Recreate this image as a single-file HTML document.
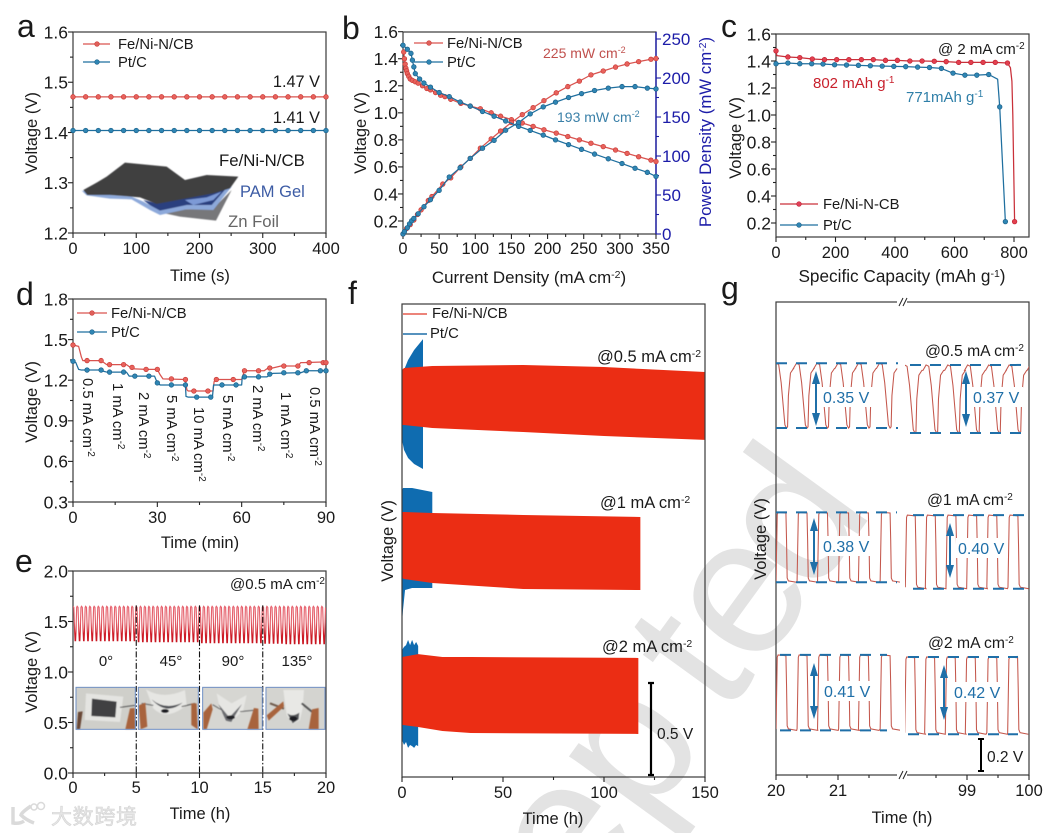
<!DOCTYPE html>
<html lang="en">
<head>
<meta charset="utf-8">
<title>Battery performance figure</title>
<style>
html,body{margin:0;padding:0;background:#fff;width:1053px;height:833px;overflow:hidden;}
#stage{width:1053px;height:833px;overflow:hidden;position:relative;}
svg{display:block;overflow:hidden;font-family:"Liberation Sans","Noto Sans CJK SC",sans-serif;}
text{fill:#1a1a1a;}
</style>
</head>
<body>
<div id="stage">
<svg id="fig" xmlns="http://www.w3.org/2000/svg" width="1053" height="833" viewBox="0 0 1053 833">
  <defs>
    <clipPath id="clip-page"><rect x="0" y="0" width="1053" height="833"/></clipPath>
    <clipPath id="clip-e"><rect x="73" y="571" width="253" height="202"/></clipPath>
    <clipPath id="clip-g-left"><rect x="776" y="303" width="124" height="472"/></clipPath>
    <clipPath id="clip-g-right"><rect x="905" y="303" width="124" height="472"/></clipPath>
    <linearGradient id="e-wave-gradient" gradientUnits="userSpaceOnUse" x1="0" y1="605" x2="0" y2="643">
      <stop offset="0" stop-color="#e6626e"/>
      <stop offset="0.45" stop-color="#e4606a"/>
      <stop offset="0.75" stop-color="#cf1f2a"/>
      <stop offset="1" stop-color="#c8141f"/>
    </linearGradient>
    <filter id="soft" x="-5%" y="-5%" width="110%" height="110%"><feGaussianBlur stdDeviation="1.6"/></filter>
  </defs>
  <rect width="1053" height="833" style="fill:#fff"/>
  <g clip-path="url(#clip-page)">
    <text transform="translate(390,1178) rotate(-54)" dx="0 0 0 0 0 27 0 -15" font-size="195" style="fill:#e3e3e3">Accepted</text>
  </g>

  <g opacity="0.9">
    <path d="M13 807 L13 823 Q20 824 24 821 M31 806 Q22 812 21 815 Q26 820 34 823" fill="none" stroke="#d6d6d6" stroke-width="3.5"/>
    <circle cx="34" cy="807" r="3" fill="none" stroke="#d6d6d6" stroke-width="1.5"/>
    <circle cx="41" cy="806" r="3.5" fill="none" stroke="#d6d6d6" stroke-width="1.5"/>
    <text x="51" y="824" font-size="21" textLength="86" style="fill:#e4e4e4;stroke:#d0d0d0;stroke-width:0.6">大数跨境</text>
  </g>

  <g id="panel-a"></g>
  <g id="panel-b"></g>
  <g id="panel-c"></g>
  <g id="panel-d"></g>
  <g id="panel-e"></g>
  <g id="panel-f"></g>
  <g id="panel-g"></g>

  <!-- panel letters -->
  <text x="17" y="37" font-size="32">a</text>
  <text x="342" y="39" font-size="32">b</text>
  <text x="721" y="37" font-size="32">c</text>
  <text x="16" y="305" font-size="32">d</text>
  <text x="15" y="572" font-size="32">e</text>
  <text x="348" y="304" font-size="32">f</text>
  <text x="721" y="299" font-size="32">g</text>

  <!-- axis titles -->
  <text transform="translate(37,133) rotate(-90)" text-anchor="middle" font-size="16.5">Voltage (V)</text>
  <text x="200" y="281" text-anchor="middle" font-size="16.5">Time (s)</text>
  <text transform="translate(366,133) rotate(-90)" text-anchor="middle" font-size="16.5">Voltage (V)</text>
  <text transform="translate(711,132) rotate(-90)" text-anchor="middle" font-size="16.8" style="fill:#1c1ca8">Power Density (mW cm<tspan dy="-5" font-size="10.5" style="fill:#1c1ca8">-2</tspan><tspan dy="5" style="fill:#1c1ca8">)</tspan></text>
  <text x="529" y="283" text-anchor="middle" font-size="16.9">Current Density (mA cm<tspan dy="-5" font-size="10.5">-2</tspan><tspan dy="5">)</tspan></text>
  <text transform="translate(741,138) rotate(-90)" text-anchor="middle" font-size="16.5">Voltage (V)</text>
  <text x="902" y="282" text-anchor="middle" font-size="17.2">Specific Capacity (mAh g<tspan dy="-5" font-size="10.5">-1</tspan><tspan dy="5">)</tspan></text>
  <text transform="translate(37,402) rotate(-90)" text-anchor="middle" font-size="16.5">Voltage (V)</text>
  <text x="200" y="548" text-anchor="middle" font-size="16.5">Time (min)</text>
  <text transform="translate(37,672) rotate(-90)" text-anchor="middle" font-size="16.5">Voltage (V)</text>
  <text x="200" y="819" text-anchor="middle" font-size="16.5">Time (h)</text>
  <text transform="translate(393,541) rotate(-90)" text-anchor="middle" font-size="16.5">Voltage (V)</text>
  <text x="553" y="824" text-anchor="middle" font-size="16.5">Time (h)</text>
  <text transform="translate(766,539) rotate(-90)" text-anchor="middle" font-size="16.5">Voltage (V)</text>
  <text x="902" y="823" text-anchor="middle" font-size="16.5">Time (h)</text>

  <!-- panel a annotations -->
  <g>
    <line x1="83" x2="110" y1="44" y2="44" stroke="#d9534f" stroke-width="1.3"/>
    <circle cx="97" cy="44" r="2.3" fill="#e0605a" stroke="#c93a36" stroke-width="0.6"/>
    <text x="118" y="49" font-size="14.8">Fe/Ni-N/CB</text>
    <line x1="83" x2="110" y1="62" y2="62" stroke="#1f6f9f" stroke-width="1.3"/>
    <circle cx="97" cy="62" r="2.3" fill="#2f86b4" stroke="#1b5f88" stroke-width="0.6"/>
    <text x="118" y="67" font-size="14.8">Pt/C</text>
  </g>
  <text x="320" y="87" text-anchor="end" font-size="16.3">1.47 V</text>
  <text x="320" y="123" text-anchor="end" font-size="16.3">1.41 V</text>
  <g transform="scale(0.3333)">
    <g filter="url(#soft)">
      <polygon points="470,635 540,650 648,662 695,570 640,625 560,628" fill="#77777a"/>
      <polygon points="430,600 480,640 560,622 640,625 695,555 640,570 560,585 470,610" fill="#29407f"/>
      <polygon points="245,572 260,586 330,596 395,598 450,630 480,645 560,628 640,630 695,560 690,552 635,615 560,615 480,632 430,605 395,590 330,585 262,575" fill="#8da9da"/>
      <polygon points="555,600 620,592 665,575 640,600 580,615" fill="#7d9ad6"/>
      <polygon points="250,570 290,548 320,530 375,488 500,500 555,540 620,525 715,530 690,565 640,580 560,595 470,612 420,592 330,585 262,585" fill="#3f3f41"/>
    </g>
  </g>
  <text x="219" y="166" font-size="16.8">Fe/Ni-N/CB</text>
  <text x="240" y="197" font-size="16.5" style="fill:#3d5ca5">PAM Gel</text>
  <text x="228" y="227" font-size="16.7" style="fill:#666">Zn Foil</text>

  <!-- panel b annotations -->
  <g>
    <line x1="414" x2="443" y1="43" y2="43" stroke="#d9534f" stroke-width="1.3"/>
    <circle cx="429" cy="43" r="2.3" fill="#e0605a" stroke="#c93a36" stroke-width="0.6"/>
    <text x="447" y="48" font-size="14.8">Fe/Ni-N/CB</text>
    <line x1="414" x2="443" y1="62" y2="62" stroke="#1f6f9f" stroke-width="1.3"/>
    <circle cx="429" cy="62" r="2.3" fill="#2f86b4" stroke="#1b5f88" stroke-width="0.6"/>
    <text x="447" y="67" font-size="14.8">Pt/C</text>
  </g>
  <text x="543" y="58" font-size="14" style="fill:#c0504d">225 mW cm<tspan dy="-5" font-size="9" style="fill:#c0504d">-2</tspan></text>
  <text x="557" y="122" font-size="14" style="fill:#3a80a8">193 mW cm<tspan dy="-5" font-size="9" style="fill:#3a80a8">-2</tspan></text>

  <!-- panel c annotations -->
  <g>
    <line x1="780" x2="818" y1="204" y2="204" stroke="#c9303a" stroke-width="1.3"/>
    <circle cx="799" cy="204" r="2.3" fill="#e0405a" stroke="#c01f30" stroke-width="0.6"/>
    <text x="823" y="209" font-size="14.8">Fe/Ni-N-CB</text>
    <line x1="780" x2="818" y1="225" y2="225" stroke="#1f6f9f" stroke-width="1.3"/>
    <circle cx="799" cy="225" r="2.3" fill="#2f86b4" stroke="#1b5f88" stroke-width="0.6"/>
    <text x="823" y="230" font-size="14.8">Pt/C</text>
  </g>
  <text x="938" y="54" font-size="15">@ 2 mA cm<tspan dy="-5" font-size="10">-2</tspan></text>
  <text x="813" y="88" font-size="15" style="fill:#c8202c">802 mAh g<tspan dy="-5" font-size="10" style="fill:#c8202c">-1</tspan></text>
  <text x="906" y="102" font-size="15" style="fill:#2f7fa8">771mAh g<tspan dy="-5" font-size="10" style="fill:#2f7fa8">-1</tspan></text>

  <!-- panel d annotations -->
  <g>
    <line x1="77" x2="107" y1="313" y2="313" stroke="#d9534f" stroke-width="1.3"/>
    <circle cx="92" cy="313" r="2.3" fill="#e0605a" stroke="#c93a36" stroke-width="0.6"/>
    <text x="111" y="318" font-size="14.8">Fe/Ni-N/CB</text>
    <line x1="77" x2="107" y1="332" y2="332" stroke="#1f6f9f" stroke-width="1.3"/>
    <circle cx="92" cy="332" r="2.3" fill="#2f86b4" stroke="#1b5f88" stroke-width="0.6"/>
    <text x="111" y="337" font-size="14.8">Pt/C</text>
  </g>
  <g font-size="14.8">
    <text transform="translate(83,378) rotate(90)">0.5 mA cm<tspan dy="-5" font-size="10">-2</tspan></text>
    <text transform="translate(113,383) rotate(90)">1 mA cm<tspan dy="-5" font-size="10">-2</tspan></text>
    <text transform="translate(139,392) rotate(90)">2 mA cm<tspan dy="-5" font-size="10">-2</tspan></text>
    <text transform="translate(167,395) rotate(90)">5 mA cm<tspan dy="-5" font-size="10">-2</tspan></text>
    <text transform="translate(194,407) rotate(90)">10 mA cm<tspan dy="-5" font-size="10">-2</tspan></text>
    <text transform="translate(223,395) rotate(90)">5 mA cm<tspan dy="-5" font-size="10">-2</tspan></text>
    <text transform="translate(253,385) rotate(90)">2 mA cm<tspan dy="-5" font-size="10">-2</tspan></text>
    <text transform="translate(281,392) rotate(90)">1 mA cm<tspan dy="-5" font-size="10">-2</tspan></text>
    <text transform="translate(310,387) rotate(90)">0.5 mA cm<tspan dy="-5" font-size="10">-2</tspan></text>
  </g>

  <!-- panel e annotations -->
  <text x="230" y="589" font-size="15">@0.5 mA cm<tspan dy="-5" font-size="10">-2</tspan></text>
  <text x="106" y="666" text-anchor="middle" font-size="15">0°</text>
  <text x="171" y="666" text-anchor="middle" font-size="15">45°</text>
  <text x="233" y="666" text-anchor="middle" font-size="15">90°</text>
  <text x="297" y="666" text-anchor="middle" font-size="15">135°</text>
  <g transform="translate(70,680) scale(0.3333)">
    <g>
      <rect x="18" y="22" width="178" height="126" fill="#cfcfca"/>
      <g filter="url(#soft)">
        <polygon points="48,40 160,50 150,126 44,120" fill="#e4e4e1"/>
        <polygon points="66,56 140,65 136,112 64,108" fill="#3f3f42"/>
        <line x1="150" y1="82" x2="195" y2="76" stroke="#555" stroke-width="3"/>
        <polygon points="180,85 194,84 196,148 166,148" fill="#a8633c"/>
        <polygon points="24,96 38,94 30,148 20,148" fill="#6b4a38"/>
      </g>
      <rect x="18" y="22" width="178" height="126" fill="none" stroke="#6f8fc4" stroke-width="3"/>
    </g>
    <g>
      <rect x="205" y="22" width="180" height="126" fill="#d2d2ce"/>
      <g filter="url(#soft)">
        <path d="M228 28 Q280 60 345 30 L350 75 Q290 125 250 85 Z" fill="#e6e6e3"/>
        <path d="M245 58 Q285 92 338 68 Q290 108 245 58 Z" fill="#4e4f54"/>
        <ellipse cx="285" cy="93" rx="12" ry="6" fill="#1d1d20"/>
        <line x1="215" y1="70" x2="250" y2="76" stroke="#666" stroke-width="3"/>
        <line x1="335" y1="80" x2="375" y2="70" stroke="#555" stroke-width="3"/>
        <polygon points="206,76 226,68 232,140 212,148" fill="#a8633c"/>
        <polygon points="364,70 380,70 383,148 364,135" fill="#a8633c"/>
      </g>
      <rect x="205" y="22" width="180" height="126" fill="none" stroke="#6f8fc4" stroke-width="3"/>
    </g>
    <g>
      <rect x="398" y="22" width="179" height="126" fill="#d6d6d2"/>
      <g filter="url(#soft)">
        <path d="M440 40 L485 70 L530 45 L520 90 L482 128 L450 90 Z" fill="#e6e6e3"/>
        <path d="M445 72 L478 112 L516 72 L484 126 L468 122 Z" fill="#6b6c70"/>
        <ellipse cx="482" cy="112" rx="13" ry="6" fill="#222326"/>
        <line x1="428" y1="74" x2="455" y2="90" stroke="#666" stroke-width="3"/>
        <line x1="510" y1="95" x2="560" y2="90" stroke="#666" stroke-width="3"/>
        <polygon points="400,98 424,70 428,88 410,148 400,148" fill="#a8633c"/>
        <polygon points="552,84 565,86 566,148 532,148" fill="#a8633c"/>
      </g>
      <rect x="398" y="22" width="179" height="126" fill="none" stroke="#6f8fc4" stroke-width="3"/>
    </g>
    <g>
      <rect x="588" y="22" width="177" height="126" fill="#d4d4d0"/>
      <g filter="url(#soft)">
        <path d="M640 30 L702 30 L698 85 L690 120 L668 132 L650 105 Z" fill="#e8e8e5"/>
        <path d="M652 100 Q668 112 688 98 L686 118 L668 130 Z" fill="#55565a"/>
        <ellipse cx="670" cy="116" rx="12" ry="7" fill="#1d1d20"/>
        <line x1="600" y1="70" x2="642" y2="86" stroke="#6e5a4c" stroke-width="6"/>
        <line x1="695" y1="70" x2="727" y2="96" stroke="#555" stroke-width="6"/>
        <polygon points="590,106 640,64 642,80 596,122" fill="#a8633c"/>
        <polygon points="726,88 746,84 746,148 716,148" fill="#a8633c"/>
      </g>
      <rect x="588" y="22" width="177" height="126" fill="none" stroke="#6f8fc4" stroke-width="3"/>
    </g>
  </g>

  <!-- panel f annotations -->
  <g>
    <line x1="403" x2="427" y1="314" y2="314" stroke="#e03a2a" stroke-width="1.2"/>
    <text x="432" y="318" font-size="14.8">Fe/Ni-N/CB</text>
    <line x1="403" x2="427" y1="334" y2="334" stroke="#1f6fa8" stroke-width="1.5"/>
    <text x="430" y="338" font-size="14.8">Pt/C</text>
  </g>
  <text x="597" y="362" font-size="16.5">@0.5 mA cm<tspan dy="-5" font-size="10.5">-2</tspan></text>
  <text x="600" y="508" font-size="16.5">@1 mA cm<tspan dy="-5" font-size="10.5">-2</tspan></text>
  <text x="602" y="652" font-size="16.5">@2 mA cm<tspan dy="-5" font-size="10.5">-2</tspan></text>

  <!-- panel g annotations -->
  <text x="925" y="356" font-size="15.7">@0.5 mA cm<tspan dy="-5" font-size="10">-2</tspan></text>
  <text x="927" y="505" font-size="15.7">@1 mA cm<tspan dy="-5" font-size="10">-2</tspan></text>
  <text x="928" y="648" font-size="15.7">@2 mA cm<tspan dy="-5" font-size="10">-2</tspan></text>
  <g id="g-overlay"></g>
</svg>
</div>

<script>
// ---------- Panel a data ----------
const aXTicks = ['0','100','200','300','400'];
const aYTicks = ['1.2','1.3','1.4','1.5','1.6'];
const aTime = [0,20,40,60,80,100,120,140,160,180,200,220,240,260,280,300,320,340,360,380,400];
const aFe = [1.471,1.471,1.471,1.471,1.471,1.471,1.471,1.471,1.471,1.471,1.471,1.471,1.471,1.471,1.471,1.471,1.471,1.471,1.471,1.471,1.471];
const aPt = [1.404,1.404,1.404,1.404,1.404,1.404,1.404,1.404,1.404,1.404,1.404,1.404,1.404,1.404,1.404,1.404,1.404,1.404,1.404,1.404,1.404];

// ---------- Panel b data ----------
const bXTicks = ['0','50','100','150','200','250','300','350'];
const bYTicks = ['0.2','0.4','0.6','0.8','1.0','1.2','1.4','1.6'];
const bRightTicks = ['0','50','100','150','200','250'];
const bFeJ = [1,2,3,4,5,6,8,10,13,17,21,27,33,38,45,52,58,66,80,93,107,122,135,150,165,180,195,212,228,244,260,277,294,310,326,343,350];
const bFeV = [1.45,1.40,1.36,1.33,1.31,1.29,1.27,1.25,1.24,1.23,1.22,1.2,1.18,1.17,1.15,1.13,1.12,1.10,1.07,1.05,1.03,1.0,0.975,0.95,0.925,0.90,0.875,0.85,0.825,0.80,0.775,0.75,0.725,0.70,0.675,0.65,0.64];
const bPtJ = [0,6,11,13,15,17,23,29,38,50,64,79,93,110,126,142,160,176,194,211,229,247,265,284,303,321,338,350];
const bPtV = [1.5,1.47,1.44,1.39,1.34,1.29,1.25,1.22,1.19,1.15,1.12,1.08,1.05,1.01,0.975,0.94,0.9,0.87,0.835,0.80,0.765,0.73,0.695,0.66,0.625,0.59,0.56,0.53];
const bFePowerJ = [0,5,10,15,20,25,35,40,55,66,80,93,107,122,135,150,165,180,195,212,228,244,260,277,294,310,326,343,350];
const bFePower = [0,7,12,18,25,31,43,48,64,72,86,97,110,122,132,143,153,162,171,181,189,196,204,209,214,218,221,224,225];
const bPtPowerJ = [0,2,6,9,12,15,21,29,38,50,64,79,93,110,126,142,160,176,194,211,229,247,265,284,303,321,338,350];
const bPtPower = [0,3,8,13,17,20,26,35,44,56,73,85,97,110,120,133,143,154,163,169,175,180,184,187,189,189,187,186];

// ---------- Panel c data ----------
const cXTicks = ['0','200','400','600','800'];
const cYTicks = ['0.2','0.4','0.6','0.8','1.0','1.2','1.4','1.6'];
const cFeCap = [0,40,80,122,163,204,245,287,327,368,408,450,491,532,572,614,655,696,737,778,802];
const cFeV = [1.475,1.43,1.425,1.415,1.41,1.41,1.41,1.41,1.41,1.405,1.405,1.4,1.4,1.398,1.395,1.39,1.39,1.39,1.39,1.385,0.21];
const cFeLineCap = [0,3,40,80,122,163,204,245,287,327,368,408,450,491,532,572,614,655,696,737,778,788,793,796,799,802];
const cFeLineV = [1.475,1.44,1.43,1.425,1.415,1.41,1.41,1.41,1.41,1.41,1.405,1.405,1.4,1.4,1.398,1.395,1.39,1.39,1.39,1.39,1.385,1.35,1.25,1.0,0.6,0.21];
const cPtCap = [0,40,80,120,158,197,237,277,317,357,396,436,476,516,556,595,635,675,715,752,771];
const cPtV = [1.38,1.385,1.38,1.38,1.378,1.372,1.37,1.368,1.365,1.362,1.36,1.358,1.355,1.352,1.345,1.31,1.295,1.295,1.3,1.06,0.21];
const cPtLineCap = [0,40,80,120,158,197,237,277,317,357,396,436,476,516,556,595,635,675,715,745,752,771];
const cPtLineV = [1.38,1.385,1.38,1.38,1.378,1.372,1.37,1.368,1.365,1.362,1.36,1.358,1.355,1.352,1.345,1.31,1.295,1.295,1.3,1.265,1.06,0.21];

// ---------- Panel d data ----------
const dXTicks = ['0','30','60','90'];
const dYTicks = ['0.3','0.6','0.9','1.2','1.5','1.8'];
const dFeT = [0,5,10,13,18,21,26,30,35,40,43,48,51,57,61,66,70,75,80,84,89,90];
const dFeV = [1.46,1.345,1.345,1.315,1.315,1.295,1.28,1.28,1.21,1.205,1.12,1.12,1.205,1.205,1.27,1.27,1.29,1.305,1.305,1.33,1.33,1.33];
const dFeLineT = [0,2,3,3.5,10,11,12,19,20,21,26,30,31,32,40,40.5,41,49,49.8,50.2,51,60,60.5,61,68,69,71,74,80,81,82,90];
const dFeLineV = [1.46,1.45,1.37,1.345,1.345,1.33,1.315,1.315,1.30,1.285,1.28,1.28,1.24,1.21,1.205,1.13,1.12,1.12,1.12,1.19,1.205,1.205,1.24,1.27,1.27,1.285,1.29,1.305,1.305,1.33,1.33,1.335];
const dPtT = [0,5,10,13,18,22,27,30,35,40,44,49,53,58,61,66,70,75,80,83,88,90];
const dPtV = [1.34,1.275,1.275,1.26,1.26,1.23,1.23,1.18,1.165,1.165,1.075,1.075,1.165,1.165,1.225,1.225,1.245,1.255,1.255,1.27,1.27,1.27];
const dPtLineT = [0,1,2,3,10,11,12,19,20,22,29,30,31,40,40.2,41,49,49.6,50,60,60.2,61,69,71,80,81,83,90];
const dPtLineV = [1.34,1.33,1.28,1.275,1.275,1.265,1.26,1.26,1.23,1.23,1.23,1.18,1.165,1.165,1.08,1.075,1.075,1.075,1.165,1.165,1.225,1.225,1.225,1.25,1.255,1.255,1.27,1.27];

// ---------- Panel e data ----------
const eXTicks = ['0','5','10','15','20'];
const eYTicks = ['0.0','0.5','1.0','1.5','2.0'];
const eDividers = [5,10,15];
const eCycleStart = [0,0.33,0.67,1,1.33,1.67,2,2.33,2.67,3,3.33,3.67,4,4.33,4.67,5,5.33,5.67,6,6.33,6.67,7,7.33,7.67,8,8.33,8.67,9,9.33,9.67,10,10.33,10.67,11,11.33,11.67,12,12.33,12.67,13,13.33,13.67,14,14.33,14.67,15,15.33,15.67,16,16.33,16.67,17,17.33,17.67,18,18.33,18.67,19,19.33,19.67];
const eHigh = [1.65,1.65,1.65,1.65,1.65,1.65,1.65,1.65,1.65,1.65,1.65,1.65,1.65,1.65,1.65,1.65,1.65,1.65,1.65,1.65,1.65,1.65,1.65,1.65,1.65,1.65,1.65,1.65,1.65,1.65,1.65,1.65,1.65,1.65,1.65,1.65,1.65,1.65,1.65,1.65,1.65,1.65,1.65,1.65,1.65,1.65,1.65,1.65,1.65,1.65,1.65,1.65,1.65,1.65,1.65,1.65,1.65,1.65,1.65,1.65];
const eLow = [1.31,1.31,1.31,1.31,1.31,1.31,1.31,1.31,1.31,1.31,1.31,1.31,1.31,1.31,1.31,1.3,1.3,1.3,1.3,1.3,1.3,1.3,1.3,1.3,1.3,1.3,1.3,1.3,1.3,1.3,1.29,1.29,1.29,1.29,1.29,1.29,1.29,1.29,1.29,1.29,1.29,1.29,1.29,1.29,1.29,1.285,1.285,1.285,1.285,1.285,1.28,1.28,1.28,1.28,1.28,1.28,1.28,1.28,1.28,1.28];

// ---------- Panel f data (stacked traces; voltage offset per rate) ----------
const fXTicks = ['0','50','100','150'];
const fFe05T = [0,1,15,60,100,150];
const fFe05Hi = [2.212,2.223,2.234,2.239,2.228,2.201];
const fFe05Lo = [1.913,1.913,1.897,1.875,1.853,1.832];
const fPt05T = [0,1,3,6,10.4];
const fPt05Hi = [2.185,2.212,2.266,2.321,2.380];
const fPt05Lo = [1.832,1.777,1.734,1.701,1.674];
const fFe1T = [0,1,15,60,118];
const fFe1Hi = [1.440,1.440,1.435,1.424,1.413];
const fFe1Lo = [1.082,1.076,1.054,1.022,1.016];
const fPt1T = [0,0.5,1.5,5,15];
const fPt1Hi = [1.560,1.571,1.571,1.571,1.549];
const fPt1Lo = [0.837,0.908,1.016,1.027,1.027];
const fFe2T = [0,8,20,34,117];
const fFe2Hi = [0.652,0.668,0.652,0.652,0.647];
const fFe2Lo = [0.283,0.272,0.250,0.239,0.234];
const fPt2T = [0,1,2,3,4,5,6,7,8];
const fPt2Hi = [0.690,0.707,0.717,0.745,0.717,0.745,0.717,0.734,0.712];
const fPt2Lo = [0.201,0.174,0.190,0.158,0.174,0.168,0.158,0.174,0.168];

// ---------- Panel g data (stacked traces; voltage offset per rate) ----------
const gXTicks = ['20','21','99','100'];
const gXTickHours = [20,21,99,100];
const gXMinorHours = [20.5,21.5,98.5,99.5];
const g05LeftStarts = [19.95,20.28,20.61,20.95,21.28,21.62];
const g05RightStarts = [97.94,98.29,98.64,98.96,99.30,99.63,99.97];
const g1LeftStarts = [20.0,20.34,20.67,21.01,21.33,21.68];
const g1RightStarts = [98.005,98.328,98.661,98.995,99.32,99.661];
const g2LeftStarts = [20.0,20.34,20.67,21.01,21.33,21.68];
const g2RightStarts = [97.995,98.317,98.65,98.973,99.32,99.656];
const gLevels05 = [2.243,1.891,2.234,1.864];
const gLevels1 = [1.433,1.053,1.418,1.018];
const gLevels2 = [0.658,0.248,0.647,0.227];
const gGapLabels = ['0.35 V','0.37 V','0.38 V','0.40 V','0.41 V','0.42 V'];

// ---------- helpers ----------
const NS = 'http://www.w3.org/2000/svg';
function mk(tag, attrs, parent) {
  const el = document.createElementNS(NS, tag);
  for (const k in attrs) el.setAttribute(k, attrs[k]);
  if (parent) parent.appendChild(el);
  return el;
}
const linear = (d0, d1, r0, r1) => v => r0 + (v - d0) * (r1 - r0) / (d1 - d0);
const pathOf = (xs, ys, sx, sy) => xs.map((x, i) => (i ? 'L' : 'M') + sx(x).toFixed(2) + ' ' + sy(ys[i]).toFixed(2)).join(' ');

function tick(parent, x1, y1, x2, y2, color, name) {
  const t = mk('line', {x1, y1, x2, y2, stroke: color, 'stroke-width': 1.1}, parent);
  
  
}
function tickLabel(parent, x, y, str, size, anchor, color, name) {
  const t = mk('text', {x, y, 'font-size': size, 'text-anchor': anchor}, parent);
  t.style.fill = color;
  t.textContent = str;
  
  
}
function frame(parent, box, name) {
  const r = mk('rect', {x: box.x0, y: box.y0, width: box.x1 - box.x0, height: box.y1 - box.y0, fill: 'none', stroke: '#3a3a3a', 'stroke-width': 1.2}, parent);
  
  
}
function axes(parent, name, box, sx, sy, xTicks, yTicks, xStep, yStep, xBase, ySize, xSize, yEdge) {
  xTicks.forEach((s, i) => {
    const v = parseFloat(s), x = sx(v);
    tick(parent, x, box.y1, x, box.y1 + 5, '#222', name + '-x-tick');
    tickLabel(parent, x, xBase, s, xSize, 'middle', '#1a1a1a', name + '-x-tick-label');
    if (xStep && i < xTicks.length - 1) {
      const m = sx(v + xStep);
      tick(parent, m, box.y1, m, box.y1 + 3, '#222', name + '-x-minor-tick');
    }
  });
  yTicks.forEach((s, i) => {
    const v = parseFloat(s), y = sy(v);
    tick(parent, box.x0, y, box.x0 - 5, y, '#222', name + '-y-tick');
    tickLabel(parent, yEdge, y + ySize * 0.36, s, ySize, 'end', '#1a1a1a', name + '-y-tick-label');
    if (yStep && i < yTicks.length - 1) {
      const m = sy(v + yStep);
      tick(parent, box.x0, m, box.x0 - 3, m, '#222', name + '-y-minor-tick');
    }
  });
}
function line(parent, xs, ys, sx, sy, color, name) {
  const p = mk('path', {d: pathOf(xs, ys, sx, sy), fill: 'none', stroke: color, 'stroke-width': 1.25, 'stroke-linejoin': 'round'}, parent);
  
  
}
function points(parent, xs, ys, sx, sy, fill, edge, name) {
  xs.forEach((x, i) => {
    const c = mk('circle', {cx: sx(x), cy: sy(ys[i]), r: 2.3, fill: fill, stroke: edge, 'stroke-width': 0.7}, parent);
    
    
  });
}
const RED = '#d9534f', REDF = '#e8625c', REDE = '#c93a36';
const BLUE = '#1f6f9f', BLUEF = '#2f86b4', BLUEE = '#1b5f88';

// ---------- Panel a ----------
(function () {
  const g = document.getElementById('panel-a');
  const box = {x0: 73, x1: 326, y0: 32, y1: 233};
  const sx = linear(0, 400, box.x0, box.x1), sy = linear(1.2, 1.6, box.y1, box.y0);
  frame(g, box, 'a');
  axes(g, 'a', box, sx, sy, aXTicks, aYTicks, 50, 0.05, 254, 17.5, 16.5, 68);
  line(g, aTime, aFe, sx, sy, RED, 'a-line-fe');
  points(g, aTime, aFe, sx, sy, REDF, REDE, 'a-point-fe');
  line(g, aTime, aPt, sx, sy, BLUE, 'a-line-pt');
  points(g, aTime, aPt, sx, sy, BLUEF, BLUEE, 'a-point-pt');
})();

// ---------- Panel b ----------
(function () {
  const g = document.getElementById('panel-b');
  const box = {x0: 403, x1: 656, y0: 32, y1: 234};
  const sx = linear(0, 350, box.x0, box.x1);
  const sy = linear(0.2, 1.6, 221, 31.7);
  const sp = linear(0, 250, 234, 39);
  frame(g, box, 'b');
  axes(g, 'b', box, sx, sy, bXTicks, bYTicks, 25, 0.1, 254, 17.5, 16.5, 398);
  const rightAxis = mk('line', {x1: box.x1, x2: box.x1, y1: box.y0, y2: box.y1, stroke: '#1c1ca8', 'stroke-width': 1.4}, g);
  
  
  bRightTicks.forEach((s, i) => {
    const v = parseFloat(s), y = sp(v);
    tick(g, box.x1, y, box.x1 + 5, y, '#1c1ca8', 'b-right-tick');
    tickLabel(g, box.x1 + 6, y + 6, s, 17, 'start', '#1c1ca8', 'b-right-tick-label');
    if (i < bRightTicks.length - 1) tick(g, box.x1, sp(v + 25), box.x1 + 3, sp(v + 25), '#1c1ca8', 'b-right-minor-tick');
  });
  line(g, bFeJ, bFeV, sx, sy, RED, 'b-voltage-line-fe');
  line(g, bFePowerJ, bFePower, sx, sp, RED, 'b-power-line-fe');
  points(g, bFeJ, bFeV, sx, sy, REDF, REDE, 'b-voltage-point-fe');
  points(g, bFePowerJ, bFePower, sx, sp, REDF, REDE, 'b-power-point-fe');
  line(g, bPtJ, bPtV, sx, sy, BLUE, 'b-voltage-line-pt');
  line(g, bPtPowerJ, bPtPower, sx, sp, BLUE, 'b-power-line-pt');
  points(g, bPtJ, bPtV, sx, sy, BLUEF, BLUEE, 'b-voltage-point-pt');
  points(g, bPtPowerJ, bPtPower, sx, sp, BLUEF, BLUEE, 'b-power-point-pt');
})();

// ---------- Panel c ----------
(function () {
  const g = document.getElementById('panel-c');
  const box = {x0: 776, x1: 1029, y0: 34, y1: 237};
  const sx = linear(0, 800, 776, 1014), sy = linear(0.2, 1.6, 223, 34);
  frame(g, box, 'c');
  axes(g, 'c', box, sx, sy, cXTicks, cYTicks, 100, 0.1, 258, 17.5, 16.5, 771);
  line(g, cPtLineCap, cPtLineV, sx, sy, BLUE, 'c-line-pt');
  points(g, cPtCap, cPtV, sx, sy, BLUEF, BLUEE, 'c-point-pt');
  line(g, cFeLineCap, cFeLineV, sx, sy, '#c9303a', 'c-line-fe');
  points(g, cFeCap, cFeV, sx, sy, '#e2404f', '#c01f30', 'c-point-fe');
})();

// ---------- Panel d ----------
(function () {
  const g = document.getElementById('panel-d');
  const box = {x0: 73, x1: 326, y0: 299, y1: 502};
  const sx = linear(0, 90, box.x0, box.x1), sy = linear(0.3, 1.8, box.y1, box.y0);
  frame(g, box, 'd');
  axes(g, 'd', box, sx, sy, dXTicks, dYTicks, 15, 0.15, 523, 17.5, 16.5, 68);
  line(g, dFeLineT, dFeLineV, sx, sy, RED, 'd-line-fe');
  points(g, dFeT, dFeV, sx, sy, REDF, REDE, 'd-point-fe');
  line(g, dPtLineT, dPtLineV, sx, sy, BLUE, 'd-line-pt');
  points(g, dPtT, dPtV, sx, sy, BLUEF, BLUEE, 'd-point-pt');
})();

// ---------- Panel e ----------
(function () {
  const g = document.getElementById('panel-e');
  const box = {x0: 73, x1: 326, y0: 571, y1: 773};
  const sx = linear(0, 20, box.x0, box.x1), sy = linear(0, 2, box.y1, box.y0);
  frame(g, box, 'e');
  axes(g, 'e', box, sx, sy, eXTicks, eYTicks, 2.5, 0.25, 793, 17.5, 16.5, 68);
  let d = '';
  eCycleStart.forEach((t0, i) => {
    const P = (i < eCycleStart.length - 1 ? eCycleStart[i + 1] : 20) - t0;
    const hi = eHigh[i], lo = eLow[i], span = hi - lo;
    [[0, 1], [0.2, 0.97], [0.4, 0.25], [0.5, 0], [0.62, 0], [0.72, 0.3], [0.88, 0.97]].forEach(f => {
      d += (d ? 'L' : 'M') + sx(t0 + f[0] * P).toFixed(2) + ' ' + sy(lo + f[1] * span).toFixed(2) + ' ';
    });
  });
  const wave = mk('path', {d: d, fill: 'none', stroke: 'url(#e-wave-gradient)', 'stroke-width': 1.15, 'clip-path': 'url(#clip-e)'}, g);
  
  
  eDividers.forEach(t => {
    const l = mk('line', {x1: sx(t), x2: sx(t), y1: sy(1.66), y2: box.y1, stroke: '#111', 'stroke-width': 1.1, 'stroke-dasharray': '6 2 1.5 2'}, g);
    
    
  });
})();

// ---------- Panel f ----------
(function () {
  const g = document.getElementById('panel-f');
  const box = {x0: 402, x1: 705, y0: 304, y1: 777};
  const sx = linear(0, 150, box.x0, box.x1), sy = linear(0, 2.57, box.y1, box.y1 - 2.57 * 184);
  const band = (ts, hi, lo, color, name) => {
    const top = pathOf(ts, hi, sx, sy);
    const bottom = ts.slice().reverse().map((t, i) => 'L' + sx(t).toFixed(2) + ' ' + sy(lo[ts.length - 1 - i]).toFixed(2)).join(' ');
    const p = mk('path', {d: top + ' ' + bottom + ' Z', fill: color}, g);
    
    
  };
  const FEB = '#eb2d14', PTB = '#0f6cb0';
  band(fPt05T, fPt05Hi, fPt05Lo, PTB, 'f-band-pt-0-5');
  band(fPt1T, fPt1Hi, fPt1Lo, PTB, 'f-band-pt-1');
  band(fPt2T, fPt2Hi, fPt2Lo, PTB, 'f-band-pt-2');
  band(fFe05T, fFe05Hi, fFe05Lo, FEB, 'f-band-fe-0-5');
  band(fFe1T, fFe1Hi, fFe1Lo, FEB, 'f-band-fe-1');
  band(fFe2T, fFe2Hi, fFe2Lo, FEB, 'f-band-fe-2');
  frame(g, box, 'f');
  axes(g, 'f', box, sx, sy, fXTicks, [], 25, 0, 798, 17, 16.5, 397);
  const bar = mk('path', {d: 'M648 683 H654 M651 683 V775 M648 775 H654', stroke: '#000', 'stroke-width': 2.2, fill: 'none'}, g);
  
  
  const barLabel = mk('text', {x: 657, y: 739, 'font-size': 15.5}, g);
  barLabel.textContent = '0.5 V';
  
  
})();

// ---------- Panel g ----------
(function () {
  const g = document.getElementById('panel-g');
  const over = document.getElementById('g-overlay');
  const box = {x0: 776, x1: 1029, y0: 302, y1: 775};
  const sLeft = linear(20, 21, 776, 838), sRight = linear(99, 100, 967, 1029);
  const sx = h => h < 50 ? sLeft(h) : sRight(h);
  const sy = linear(0, 2.57, 776, 776 - 2.57 * 184);
  frame(g, box, 'g');
  const gapMask = mk('rect', {x: 897, y: 299, width: 10, height: 6, fill: '#fff'}, g);
  
  
  const gapMask2 = mk('rect', {x: 897, y: 772, width: 10, height: 6, fill: '#fff'}, g);
  
  
  [[302], [775]].forEach(a => {
    const s = mk('path', {d: 'M899 ' + (a[0] + 4) + ' L903 ' + (a[0] - 4) + ' M903 ' + (a[0] + 4) + ' L907 ' + (a[0] - 4), stroke: '#222', 'stroke-width': 1, fill: 'none'}, g);
    
    
  });
  gXTickHours.forEach((h, i) => {
    tick(g, sx(h), box.y1, sx(h), box.y1 + 5, '#222', 'g-x-tick');
    tickLabel(g, sx(h), 796, gXTicks[i], 16.5, 'middle', '#1a1a1a', 'g-x-tick-label');
  });
  gXMinorHours.forEach(h => {
    tick(g, sx(h), box.y1, sx(h), box.y1 + 3, '#222', 'g-x-minor-tick');
  });
  const narrow = [[0, 0.92], [0.15, 1], [0.28, 0.98], [0.4, 0.7], [0.58, 0.05], [0.66, 0], [0.71, 0.02], [0.75, 0.5], [0.85, 0.85], [1, 0.92]];
  const square = [[0, 0.02], [0.03, 0.5], [0.06, 0.97], [0.1, 1], [0.48, 0.99], [0.51, 0.6], [0.54, 0.06], [0.6, 0.02], [1, 0]];
  const trace = (starts, hi, lo, shape, clip, name) => {
    const period = 1 / 3;
    let d = '';
    starts.forEach(h0 => {
      shape.forEach(f => {
        d += (d ? 'L' : 'M') + sx(h0 + f[0] * period).toFixed(2) + ' ' + sy(lo + f[1] * (hi - lo)).toFixed(2) + ' ';
      });
    });
    const p = mk('path', {d: d, fill: 'none', stroke: '#c4574c', 'stroke-width': 1.05, 'clip-path': 'url(#' + clip + ')'}, g);
    
    
  };
  const dash = (x0, x1, lvl, name) => {
    const l = mk('line', {x1: x0, x2: x1, y1: sy(lvl), y2: sy(lvl), stroke: '#1f6fa8', 'stroke-width': 2, 'stroke-dasharray': '11 9'}, g);
    
    
  };
  trace(g05LeftStarts, gLevels05[0], gLevels05[1], narrow, 'clip-g-left', 'g-trace-0-5-early');
  trace(g05RightStarts, gLevels05[2], gLevels05[3], narrow, 'clip-g-right', 'g-trace-0-5-late');
  trace(g1LeftStarts, gLevels1[0], gLevels1[1], square, 'clip-g-left', 'g-trace-1-early');
  trace(g1RightStarts, gLevels1[2], gLevels1[3], square, 'clip-g-right', 'g-trace-1-late');
  trace(g2LeftStarts, gLevels2[0], gLevels2[1], square, 'clip-g-left', 'g-trace-2-early');
  trace(g2RightStarts, gLevels2[2], gLevels2[3], square, 'clip-g-right', 'g-trace-2-late');
  dash(776, 898, gLevels05[0], 'g-guide-0-5-early-high');
  dash(776, 898, gLevels05[1], 'g-guide-0-5-early-low');
  dash(910, 1027, gLevels05[2], 'g-guide-0-5-late-high');
  dash(910, 1027, gLevels05[3], 'g-guide-0-5-late-low');
  dash(776, 897, gLevels1[0], 'g-guide-1-early-high');
  dash(776, 897, gLevels1[1], 'g-guide-1-early-low');
  dash(913, 1027, gLevels1[2], 'g-guide-1-late-high');
  dash(913, 1027, gLevels1[3], 'g-guide-1-late-low');
  dash(780, 887, gLevels2[0], 'g-guide-2-early-high');
  dash(780, 887, gLevels2[1], 'g-guide-2-early-low');
  dash(908, 1018, gLevels2[2], 'g-guide-2-late-high');
  dash(908, 1018, gLevels2[3], 'g-guide-2-late-low');

  const gapMark = (x, top, bottom, tx, ty, str, w) => {
    const bg = mk('rect', {x: tx - 2, y: ty - 10, width: w, height: 20, fill: '#fff'}, over);
    
    
    const shaft = mk('line', {x1: x, x2: x, y1: top + 6, y2: bottom - 6, stroke: '#1f6fa8', 'stroke-width': 2}, over);
    
    
    const heads = mk('path', {d: 'M' + x + ' ' + top + ' l-4 13 h8 Z M' + x + ' ' + bottom + ' l-4 -13 h8 Z', fill: '#1f6fa8'}, over);
    
    
    const t = mk('text', {x: tx, y: ty + 6, 'font-size': 16}, over);
    t.style.fill = '#1f6fa8';
    t.textContent = str;
    
    
  };
  gapMark(816, 371, 426, 823, 397, gGapLabels[0], 52);
  gapMark(966, 371, 427, 973, 397, gGapLabels[1], 52);
  gapMark(814, 518, 575, 823, 546, gGapLabels[2], 52);
  gapMark(950, 523, 578, 958, 548, gGapLabels[3], 52);
  gapMark(814, 663, 719, 824, 691, gGapLabels[4], 52);
  gapMark(944, 665, 720, 954, 692, gGapLabels[5], 52);

  const bar = mk('path', {d: 'M978 739 H984 M981 739 V771 M978 771 H984', stroke: '#000', 'stroke-width': 2, fill: 'none'}, over);
  
  
  const barLabel = mk('text', {x: 987, y: 762, 'font-size': 15.5}, over);
  barLabel.textContent = '0.2 V';
  
  
})();
</script>
</body>
</html>
